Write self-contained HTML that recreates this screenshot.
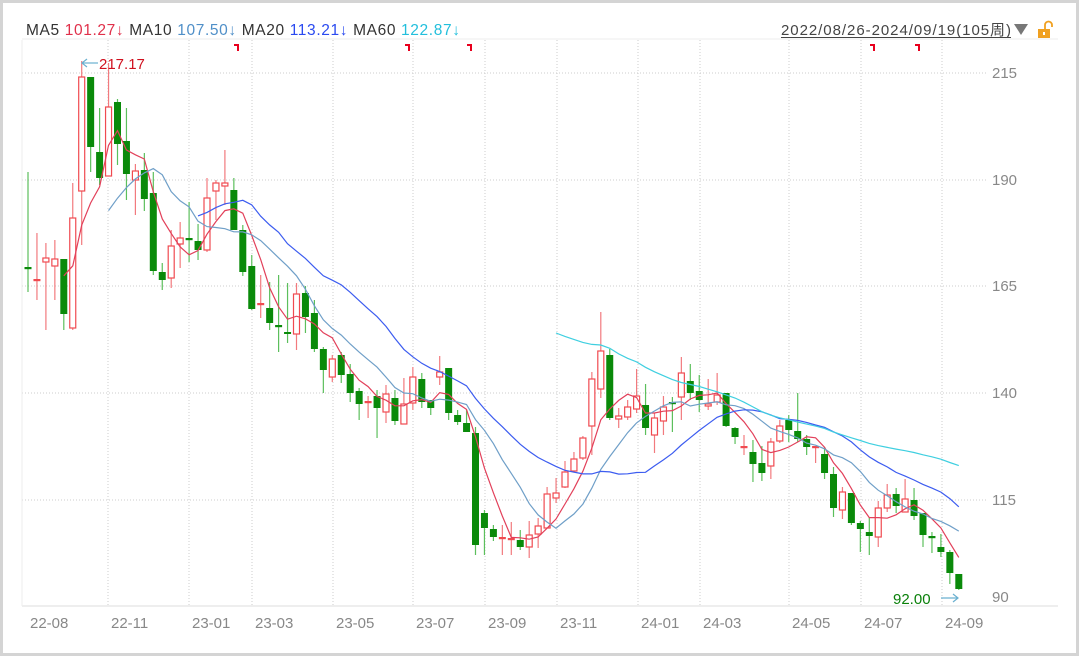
<!DOCTYPE html>
<html><head><meta charset="utf-8"><style>
html,body{margin:0;padding:0;background:#fff;}
body{width:1080px;height:657px;overflow:hidden;position:relative;font-family:"Liberation Sans","Noto Sans CJK SC",sans-serif;}
svg{position:absolute;left:0;top:0;}
</style></head><body>
<svg id="s" width="1080" height="657" xmlns="http://www.w3.org/2000/svg" font-family="Liberation Sans, Noto Sans CJK SC, sans-serif">
<rect x="1.5" y="1.5" width="1076" height="653" fill="#fff" stroke="#d4d4d4" stroke-width="3"/>
<line x1="22" y1="39" x2="1058" y2="39" stroke="#eee"/>
<text x="26" y="35" font-size="15.5" fill="#333" textLength="434" lengthAdjust="spacing">MA5 <tspan fill="#e0304a">101.27↓</tspan> MA10 <tspan fill="#4f8fc8">107.50↓</tspan> MA20 <tspan fill="#2a4af0">113.21↓</tspan> MA60 <tspan fill="#22bfdc">122.87↓</tspan></text>
<text x="781" y="35" font-size="15" fill="#444" textLength="230" lengthAdjust="spacing">2022/08/26-2024/09/19(105周)</text>
<line x1="781" y1="37.5" x2="1011" y2="37.5" stroke="#444" stroke-width="1"/>
<polygon points="1014,24 1028,24 1021,35" fill="#777"/>
<rect x="1038" y="29" width="12" height="9" fill="#f0a020"/>
<path d="M1045,29 v-4 a3.5,3.5 0 0 1 7,0 v2" fill="none" stroke="#f0a020" stroke-width="1.8"/>
<rect x="1043" y="32" width="2" height="3" fill="#fff"/>
<g id="grid" stroke="#ccc" stroke-dasharray="1,2"></g>
<line x1="22" y1="606" x2="1058" y2="606" stroke="#ddd"/>
<line x1="22" y1="40" x2="22" y2="606" stroke="#eee"/>
<g id="xl" font-size="15" fill="#888"></g>
<g id="yl" font-size="15" fill="#888"></g>
<g id="marks" fill="#e8001e"></g>
<g id="c"></g>
<g id="ma" fill="none" stroke-width="1.2"></g>
<line x1="82" y1="63" x2="98" y2="63" stroke="#6ab0d0" stroke-width="1.2"/>
<polyline points="87,59 82,63 87,67" fill="none" stroke="#6ab0d0" stroke-width="1.2"/>
<text x="99" y="69" font-size="15" fill="#d0101e">217.17</text>
<text x="893" y="604" font-size="15" fill="#0a800a">92.00</text>
<line x1="941" y1="598" x2="958" y2="598" stroke="#6ab0d0" stroke-width="1.2"/>
<polyline points="953,594 958,598 953,602" fill="none" stroke="#6ab0d0" stroke-width="1.2"/>
</svg>
<script>
var NS="http://www.w3.org/2000/svg";
function el(p,t,a,txt){var e=document.createElementNS(NS,t);for(var k in a)e.setAttribute(k,a[k]);if(txt!=null)e.textContent=txt;document.getElementById(p).appendChild(e);return e;}
[108,189,252,333,413,485,557,638,700,789,861,942].forEach(function(x){el("grid","line",{x1:x,y1:40,x2:x,y2:606});});
[73,180,286,393,500].forEach(function(y){el("grid","line",{x1:22,y1:y,x2:988,y2:y});});
var xl=[["22-08",30],["22-11",111],["23-01",192],["23-03",255],["23-05",336],["23-07",416],["23-09",488],["23-11",560],["24-01",641],["24-03",703],["24-05",792],["24-07",864],["24-09",945]];
xl.forEach(function(a){el("xl","text",{x:a[1],y:628},a[0]);});
[["215",78],["190",185],["165",291],["140",398],["115",505],["90",602]].forEach(function(a){el("yl","text",{x:992,y:a[1]},a[0]);});
[237,408,470,873,918].forEach(function(x){el("marks","path",{d:"M"+(x-3)+",44 h5 v7 h-2 v-5 h-3z"});});
var D=[[268,268,172,292,0],[280,280,233,300,1],[258,262,243,330,1],[259,266,240,300,1],[259,314,259,330,0],[218,328,183,330,1],[77,191,61,245,1],[77,147,77,172,0],[152,178,108,185,0],[107,176,63,176,1],
[102,144,99,165,0],[141,174,108,200,0],[171,180,164,215,1],[170,199,153,211,0],[193,271,172,275,0],[272,280,263,290,0],[246,278,230,288,1],[238,244,222,268,1],[239,239,202,262,0],[241,250,224,260,0],
[198,250,178,252,1],[183,191,180,220,1],[183,186,150,205,1],[190,230,178,230,0],[230,272,225,276,0],[266,309,255,310,0],[304,304,275,318,1],[308,323,282,330,0],[326,326,275,352,0],[332,334,283,343,0],
[294,334,283,350,1],[293,317,286,333,0],[313,349,300,352,0],[349,370,347,393,0],[359,377,355,382,1],[355,375,352,383,0],[374,393,364,402,0],[391,404,388,420,0],[402,402,396,418,1],[396,408,390,438,0],
[394,412,385,423,1],[398,421,390,425,0],[404,424,378,424,1],[377,403,367,410,1],[379,402,373,408,0],[400,408,400,415,0],[372,377,356,385,1],[368,413,368,420,0],[415,422,410,425,0],[423,432,410,432,0],
[433,545,427,555,0],[513,528,510,555,0],[529,537,525,541,0],[538,538,525,555,1],[539,539,522,555,1],[540,547,530,550,0],[535,547,521,558,1],[526,534,518,548,1],[494,528,487,528,1],[493,498,478,503,1],
[472,487,461,488,1],[459,471,452,472,1],[438,458,436,460,1],[379,426,372,455,1],[351,389,312,398,1],[355,418,349,420,0],[416,419,408,428,1],[407,417,400,420,1],[396,409,369,413,1],[405,428,384,435,0],
[418,435,413,453,1],[407,421,396,435,1],[403,404,397,432,0],[373,397,357,420,1],[381,393,364,400,0],[391,400,375,412,0],[404,406,379,410,1],[395,402,373,405,1],[393,426,393,427,0],[428,437,427,444,0],
[447,447,435,455,1],[452,464,440,482,0],[463,473,446,481,0],[442,466,438,479,1],[426,441,420,443,1],[420,430,415,442,0],[431,439,393,442,0],[439,447,435,455,0],[447,447,447,463,1],[454,473,447,479,0],
[474,508,467,517,0],[492,510,487,519,1],[493,523,493,525,0],[523,529,521,552,0],[532,536,517,555,0],[508,537,501,547,1],[495,508,484,512,1],[494,506,488,513,0],[499,512,479,512,1],[500,516,488,520,0],
[513,535,513,547,0],[537,538,532,553,0],[547,552,534,557,0],[552,573,550,584,0],[574,589,574,590,0]];
var RED="#f04a50",GRN="#0a8a0a";
function X(i){return 28+i*8.95;}
var closes=[];
D.forEach(function(d,i){
  var x=X(i),red=d[4],col=red?RED:GRN;
  closes.push(red?d[0]:d[1]);
  el("c","line",{x1:x,y1:d[2],x2:x,y2:d[3],stroke:red?"#f27a7e":"#5cbf5c","stroke-width":1.2});
  if(d[1]-d[0]<2){el("c","rect",{x:x-3.5,y:d[0]-1,width:7,height:2.2,fill:col});}
  else if(red){el("c","rect",{x:x-3,y:d[0],width:6,height:d[1]-d[0],fill:"#fff",stroke:col,"stroke-width":1.2});}
  else{el("c","rect",{x:x-3.5,y:d[0],width:7,height:d[1]-d[0],fill:col});}
});
[[5,"#e2405a"],[10,"#6f9fc8"],[20,"#3c5cf0"],[60,"#3fcfe0"]].forEach(function(m){
  var n=m[0],pts=[];
  for(var i=n-1;i<closes.length;i++){var s=0;for(var j=i-n+1;j<=i;j++)s+=closes[j];pts.push(X(i).toFixed(1)+","+(s/n).toFixed(1));}
  el("ma","polyline",{points:pts.join(" "),stroke:m[1]});
});
</script>
</body></html>
